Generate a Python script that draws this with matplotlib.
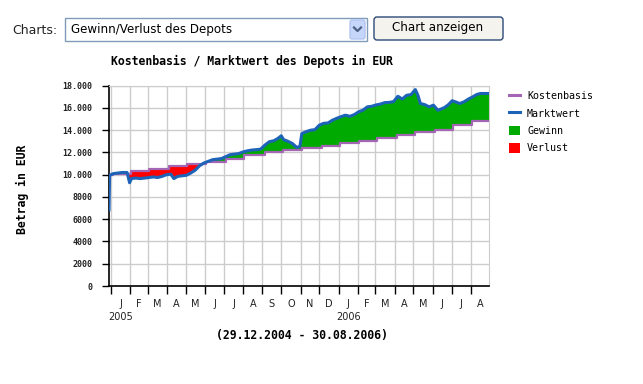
import numpy as np
import pandas as pd
import matplotlib
matplotlib.use('Agg')
import matplotlib.pyplot as plt
import matplotlib.dates as mdates
from matplotlib.lines import Line2D
from matplotlib.patches import Patch, Rectangle, FancyBboxPatch

# Marktwert des Depots (EUR)
MW_DATES = ['2004-12-29', '2004-12-30', '2005-01-05', '2005-01-12', '2005-01-19',
            '2005-01-27', '2005-01-31', '2005-02-03', '2005-02-10', '2005-02-17',
            '2005-02-24', '2005-03-03', '2005-03-10', '2005-03-17', '2005-03-24',
            '2005-03-31', '2005-04-07', '2005-04-12', '2005-04-18', '2005-04-25',
            '2005-05-02', '2005-05-09', '2005-05-16', '2005-05-23', '2005-05-30',
            '2005-06-06', '2005-06-13', '2005-06-20', '2005-06-27', '2005-07-04',
            '2005-07-11', '2005-07-18', '2005-07-25', '2005-08-01', '2005-08-08',
            '2005-08-15', '2005-08-22', '2005-08-29', '2005-09-05', '2005-09-12',
            '2005-09-19', '2005-09-26', '2005-10-01', '2005-10-05', '2005-10-12',
            '2005-10-19', '2005-10-26', '2005-10-31', '2005-11-03', '2005-11-10',
            '2005-11-17', '2005-11-24', '2005-12-01', '2005-12-08', '2005-12-15',
            '2005-12-22', '2005-12-29', '2006-01-05', '2006-01-12', '2006-01-19',
            '2006-01-26', '2006-02-02', '2006-02-09', '2006-02-16', '2006-02-23',
            '2006-03-02', '2006-03-09', '2006-03-16', '2006-03-23', '2006-03-30',
            '2006-04-06', '2006-04-13', '2006-04-20', '2006-04-27', '2006-05-04',
            '2006-05-08', '2006-05-12', '2006-05-19', '2006-05-26', '2006-06-02',
            '2006-06-09', '2006-06-14', '2006-06-20', '2006-06-26', '2006-07-02',
            '2006-07-07', '2006-07-14', '2006-07-21', '2006-07-28', '2006-08-04',
            '2006-08-10', '2006-08-16', '2006-08-23', '2006-08-30']
MW_VALUES = [6850, 9950, 10100, 10150, 10200,
             10200, 9280, 9650, 9700, 9650,
             9700, 9750, 9800, 9750, 9850,
             10000, 10050, 9650, 9850, 9900,
             9950, 10150, 10400, 10800, 11050,
             11200, 11350, 11400, 11450, 11620,
             11800, 11850, 11900, 12050, 12150,
             12220, 12250, 12300, 12670, 12970,
             13050, 13270, 13500, 13150, 13000,
             12800, 12450, 12550, 13700, 13870,
             14000, 14050, 14450, 14620, 14650,
             14900, 15070, 15220, 15350, 15250,
             15400, 15650, 15800, 16100, 16150,
             16270, 16350, 16480, 16500, 16570,
             17050, 16800, 17140, 17200, 17650,
             17150, 16400, 16300, 16100, 16250,
             15800, 15900, 16050, 16300, 16650,
             16550, 16400, 16550, 16800, 17000,
             17200, 17300, 17300, 17300]

# Kostenbasis (EUR), changes once a month
KB_DATES = ['2004-12-29', '2005-01-04', '2005-02-03', '2005-03-03', '2005-04-04',
            '2005-05-03', '2005-06-03', '2005-07-04', '2005-08-03', '2005-09-05',
            '2005-10-04', '2005-11-03', '2005-12-05', '2006-01-04', '2006-02-03',
            '2006-03-03', '2006-04-04', '2006-05-03', '2006-06-05', '2006-07-04',
            '2006-08-03', '2006-08-30']
KB_VALUES = [10000, 10100, 10350, 10500, 10800,
             10950, 11150, 11450, 11800, 12050,
             12230, 12440, 12620, 12830, 13060,
             13320, 13560, 13800, 14000, 14440,
             14820, 14820]

MONTH_LABELS = ['J', 'F', 'M', 'A', 'M', 'J', 'J', 'A', 'S', 'O', 'N', 'D',
                'J', 'F', 'M', 'A', 'M', 'J', 'J', 'A']
YEAR_LABELS = ['2005', '2006']
Y_TICKS = [0, 2000, 4000, 6000, 8000, 10000, 12000, 14000, 16000, 18000]
Y_TICK_LABELS = ['0', '2000', '4000', '6000', '8000', '10.000', '12.000',
                 '14.000', '16.000', '18.000']

PURPLE = '#a565b5'
BLUE = '#1d63b8'
GREEN = '#00aa00'
RED = '#ff0000'
MONO = 'DejaVu Sans Mono'

W, H = 643, 384
fig = plt.figure(figsize=(W / 100, H / 100), dpi=100)
fig.patch.set_facecolor('white')

# overlay in pixel coordinates for the form controls above the chart
ui = fig.add_axes([0, 0, 1, 1])
ui.set_xlim(0, W)
ui.set_ylim(H, 0)
ui.axis('off')
ui.set_zorder(-1)

ui.text(12, 31, 'Charts:', fontsize=9, va='center', ha='left', color='#222222')
ui.add_patch(Rectangle((65, 18), 302, 23, facecolor='white',
                       edgecolor='#7f9db9', lw=1))
ui.text(71, 30, 'Gewinn/Verlust des Depots', fontsize=8.6, va='center',
        ha='left', color='black')
ui.add_patch(FancyBboxPatch((350, 20), 15, 19,
                            boxstyle='round,pad=0,rounding_size=2',
                            facecolor='#c6d6fb', edgecolor='#b2c5f2', lw=1))
ui.plot([354, 357.5, 361], [27.5, 31, 27.5], color='#4d6185', lw=1.6)
ui.add_patch(FancyBboxPatch((374, 17), 129, 23,
                            boxstyle='round,pad=0,rounding_size=3',
                            facecolor='#f4f3ee', edgecolor='#2b4a78', lw=1))
ui.text(438, 28, 'Chart anzeigen', fontsize=8.6, va='center', ha='center',
        color='black')

# chart area
ax = fig.add_axes([109 / W, 1 - 286 / H, 380 / W, (286 - 85.7) / H])
ax.set_facecolor('white')

mw_d = pd.to_datetime(MW_DATES)
kb_d = pd.to_datetime(KB_DATES)
mw_x = mdates.date2num(mw_d)
kb_x = mdates.date2num(kb_d)
kb_v = np.array(KB_VALUES, dtype=float)
mw_v = np.array(MW_VALUES, dtype=float)

# fill between both series on a daily grid
days = np.arange(mw_x[0], mw_x[-1] + 1)
kb_day = kb_v[np.searchsorted(kb_x, days, side='right') - 1]
mw_day = np.interp(days, mw_x, mw_v)
ax.fill_between(days, kb_day, mw_day, where=mw_day >= kb_day,
                interpolate=True, color=GREEN, lw=0, zorder=2)
ax.fill_between(days, kb_day, mw_day, where=mw_day < kb_day,
                interpolate=True, color=RED, lw=0, zorder=2)

ax.step(kb_x, kb_v, where='post', color=PURPLE, lw=1.6, zorder=3)
ax.plot(mw_x, mw_v, color=BLUE, lw=2.2, zorder=4)

x0 = mdates.date2num(pd.Timestamp('2004-12-29'))
x1 = mdates.date2num(pd.Timestamp('2006-08-30'))
ax.set_xlim(x0, x1)
ax.set_ylim(0, 18000)

months = pd.date_range('2005-01-01', '2006-08-01', freq='MS')
m_x = mdates.date2num(months)
edges = np.append(m_x, x1)
mid = (edges[:-1] + edges[1:]) / 2

ax.set_xticks(m_x)
ax.set_xticklabels([])
ax.set_xticks(mid, minor=True)
ax.set_xticklabels(MONTH_LABELS, minor=True, fontsize=7, color='#222222')
ax.tick_params(axis='x', which='minor', length=0, pad=9.5)
ax.tick_params(axis='x', which='major', length=6, width=1, color='black',
               direction='out')

ax.set_yticks(Y_TICKS)
ax.set_yticklabels(Y_TICK_LABELS, fontsize=6, fontfamily=MONO,
                   fontweight='bold', color='#222222')
ax.tick_params(axis='y', length=5, width=1, color='black', pad=7)

ax.grid(True, which='major', color='#cccccc', lw=1, zorder=0)
ax.set_axisbelow(True)
for side in ['top', 'right']:
    ax.spines[side].set_color('#cccccc')
for side in ['left', 'bottom']:
    ax.spines[side].set_color('black')
    ax.spines[side].set_linewidth(1.2)

# year labels under the January columns
for lbl, xm in zip(YEAR_LABELS, [mid[0], mid[12]]):
    ax.text(xm, -0.155, lbl, transform=ax.get_xaxis_transform(),
            ha='center', va='center', fontsize=7, color='#222222')

fig.text(252 / W, 1 - 61.5 / H, 'Kostenbasis / Marktwert des Depots in EUR',
         fontsize=8.3, fontfamily=MONO, fontweight='bold', ha='center',
         va='center', color='black')
fig.text(302 / W, 1 - 336 / H, '(29.12.2004 - 30.08.2006)',
         fontsize=8.3, fontfamily=MONO, fontweight='bold', ha='center',
         va='center', color='black')
fig.text(22 / W, 1 - 189 / H, 'Betrag in EUR', rotation=90,
         fontsize=8.3, fontfamily=MONO, fontweight='bold', ha='center',
         va='center', color='black')

handles = [Line2D([], [], color=PURPLE, lw=2.2),
           Line2D([], [], color=BLUE, lw=2.2),
           Patch(facecolor=GREEN, edgecolor='none'),
           Patch(facecolor=RED, edgecolor='none')]
labels = ['Kostenbasis', 'Marktwert', 'Gewinn', 'Verlust']
leg = fig.legend(handles, labels, loc='upper left',
                 bbox_to_anchor=(509 / W, 1 - 91 / H),
                 frameon=False, prop={'family': MONO, 'size': 7.2},
                 handlelength=1.05, handleheight=1.1, handletextpad=0.75,
                 labelspacing=0.72, borderpad=0, borderaxespad=0)

fig.savefig('out.png', dpi=100, facecolor='white')
